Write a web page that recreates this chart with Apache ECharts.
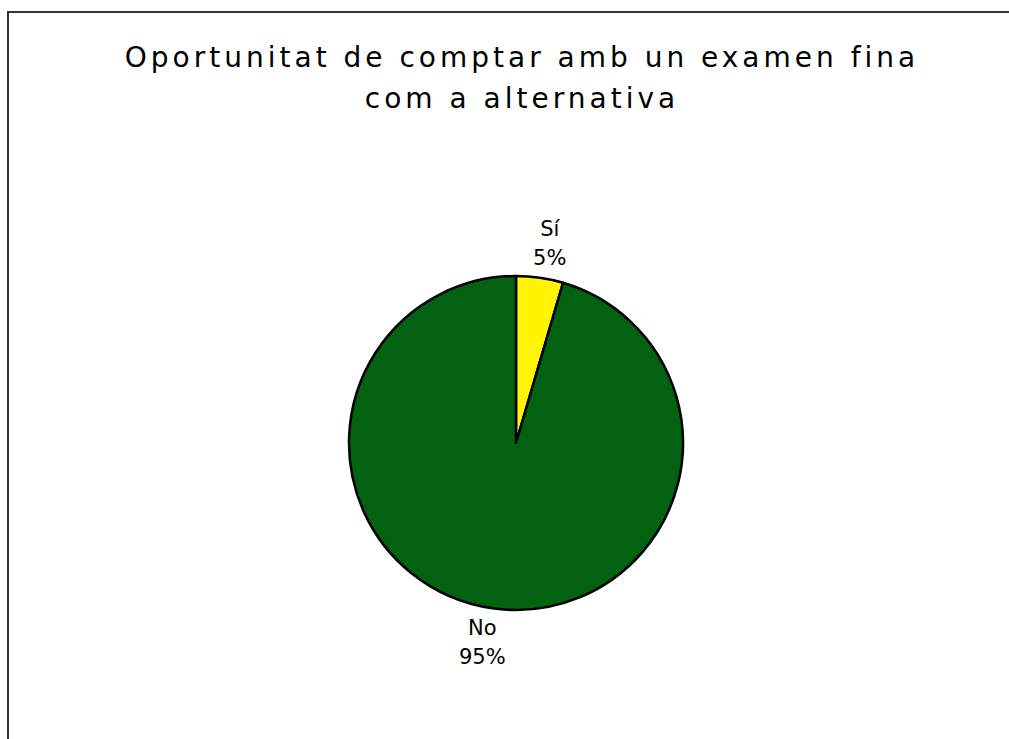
<!DOCTYPE html>
<html>
<head>
<meta charset="utf-8">
<script src="https://cdn.jsdelivr.net/npm/echarts@6/dist/echarts.min.js"></script>
<style>
  html, body { margin: 0; padding: 0; background: #fff; }
  #chart { width: 1009px; height: 739px; }
  #chart svg text[style*="28px"] { letter-spacing: 4px; }
</style>
</head>
<body>
<div id="chart"></div>
<script>
const titleText = 'Oportunitat de comptar amb un examen fina\ncom a alternativa';
const categories = ['Sí', 'No'];
const values = [1, 21];
const colors = ['#FFF500', '#036112'];

const chart = echarts.init(document.getElementById('chart'), null, { renderer: 'svg' });
chart.setOption({
  backgroundColor: '#ffffff',
  animation: false,
  title: {
    text: titleText,
    left: 517,
    textAlign: 'center',
    top: 32,
    textStyle: {
      fontFamily: 'DejaVu Sans',
      fontSize: 28,
      fontWeight: 'normal',
      lineHeight: 41,
      color: '#000'
    }
  },
  graphic: [{
    type: 'polyline',
    shape: { points: [[8, 739], [8, 12], [1009, 12]] },
    style: { stroke: '#333333', lineWidth: 2, fill: null }
  }],
  series: [{
    type: 'pie',
    center: [516, 443],
    radius: 167,
    startAngle: 90,
    clockwise: true,
    data: categories.map((c, i) => ({ name: c, value: values[i], itemStyle: { color: colors[i] } })),
    itemStyle: { borderColor: '#000', borderWidth: 2.5 },
    label: {
      show: true,
      position: 'outside',
      formatter: p => p.name + '\n' + Math.round(p.percent) + '%',
      fontFamily: 'DejaVu Sans',
      fontSize: 21,
      lineHeight: 29,
      color: '#000'
    },
    labelLine: { show: false, length: 35, length2: 0 },
    labelLayout: () => ({ align: 'center' }),
    emphasis: { disabled: true }
  }]
});
</script>
</body>
</html>
